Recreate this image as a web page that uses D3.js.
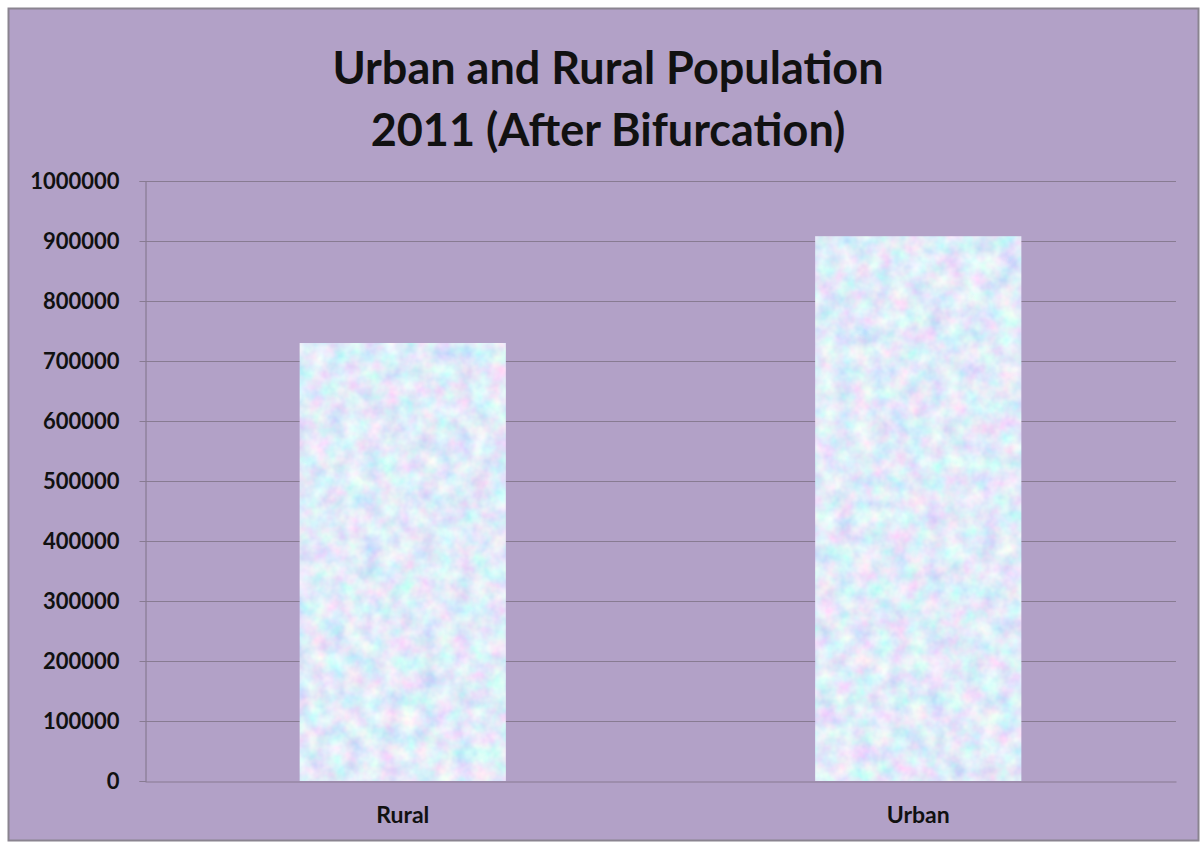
<!DOCTYPE html>
<html>
<head>
<meta charset="utf-8">
<script src="https://cdn.jsdelivr.net/npm/d3@7"></script>
<style>
  html, body { margin: 0; padding: 0; background: #ffffff; }
  svg { display: block; }
</style>
</head>
<body>
<script>
const categories = ["Rural", "Urban"];
const populationValues = [730000, 908000];
const tickValues = [0, 100000, 200000, 300000, 400000, 500000, 600000, 700000, 800000, 900000, 1000000];
const titleLines = ["Urban and Rural Population", "2011 (After Bifurcation)"];

const W = 1203, H = 844;
const plot = { left: 145, right: 1176, top: 181, bottom: 781 };
const FONT = "Lato, 'Open Sans', sans-serif";

const svg = d3.select("body").append("svg").attr("width", W).attr("height", H);

const defs = svg.append("defs");
const f = defs.append("filter").attr("id", "tex")
  .attr("x", 0).attr("y", 0).attr("width", 1).attr("height", 1);
f.append("feTurbulence").attr("type", "fractalNoise").attr("baseFrequency", 0.055)
  .attr("numOctaves", 3).attr("seed", 7).attr("result", "n");
f.append("feColorMatrix").attr("in", "n").attr("type", "matrix")
  .attr("values", "0.7 0 0 0 0.40  0 0.55 0 0 0.56  0 0 0.15 0 0.87  0 0 0 0 1")
  .attr("result", "c");
f.append("feComposite").attr("in", "c").attr("in2", "SourceGraphic").attr("operator", "in");

// background + frame
svg.append("rect").attr("x", 0).attr("y", 0).attr("width", W).attr("height", H).attr("fill", "#ffffff");
svg.append("rect").attr("x", 8.5).attr("y", 8.5).attr("width", 1190).attr("height", 832)
  .attr("fill", "#b2a1c7").attr("stroke", "#8a8490").attr("stroke-width", 2);

// title
svg.append("g").selectAll("text").data(titleLines).join("text")
  .attr("x", 608).attr("y", (d, i) => 84 + i * 62)
  .attr("text-anchor", "middle")
  .attr("font-family", FONT)
  .attr("font-weight", "bold").attr("font-size", 45).attr("fill", "#111111")
  .text(d => d);

const y = d3.scaleLinear().domain([0, 1000000]).range([plot.bottom, plot.top]);
const x = d3.scaleBand().domain(categories).range([plot.left, plot.right])
  .paddingInner(0.6).paddingOuter(0.3);

// gridlines
svg.append("g").selectAll("line").data(tickValues.filter(d => d > 0)).join("line")
  .attr("x1", plot.left).attr("x2", plot.right)
  .attr("y1", d => Math.round(y(d)) + 0.5).attr("y2", d => Math.round(y(d)) + 0.5)
  .attr("stroke", "#887b92").attr("stroke-width", 1.2);

// bars
svg.append("g").selectAll("rect").data(categories).join("rect")
  .attr("x", d => x(d)).attr("width", x.bandwidth())
  .attr("y", (d, i) => y(populationValues[i]))
  .attr("height", (d, i) => y(0) - y(populationValues[i]))
  .attr("fill", "#cfe3f7").attr("filter", "url(#tex)");

// y axis
const yAxis = d3.axisLeft(y).tickValues(tickValues).tickFormat(d3.format("d")).tickSize(6).tickPadding(20);
const gy = svg.append("g").attr("transform", `translate(${plot.left + 0.5},0)`).call(yAxis);
gy.select(".domain").attr("stroke", "#887b92").attr("stroke-width", 1.2);
gy.selectAll(".tick line").attr("stroke", "#887b92");
gy.selectAll("text").attr("font-family", FONT)
  .attr("font-weight", "bold").attr("font-size", 22).attr("fill", "#111111");

// x axis
const xAxis = d3.axisBottom(x).tickSize(0).tickPadding(25);
const gx = svg.append("g").attr("transform", `translate(0,${plot.bottom + 0.5})`).call(xAxis);
gx.select(".domain").attr("stroke", "#887b92").attr("stroke-width", 1.2);
gx.selectAll("text").attr("font-family", FONT)
  .attr("font-weight", "bold").attr("font-size", 23).attr("fill", "#111111");
</script>
</body>
</html>
